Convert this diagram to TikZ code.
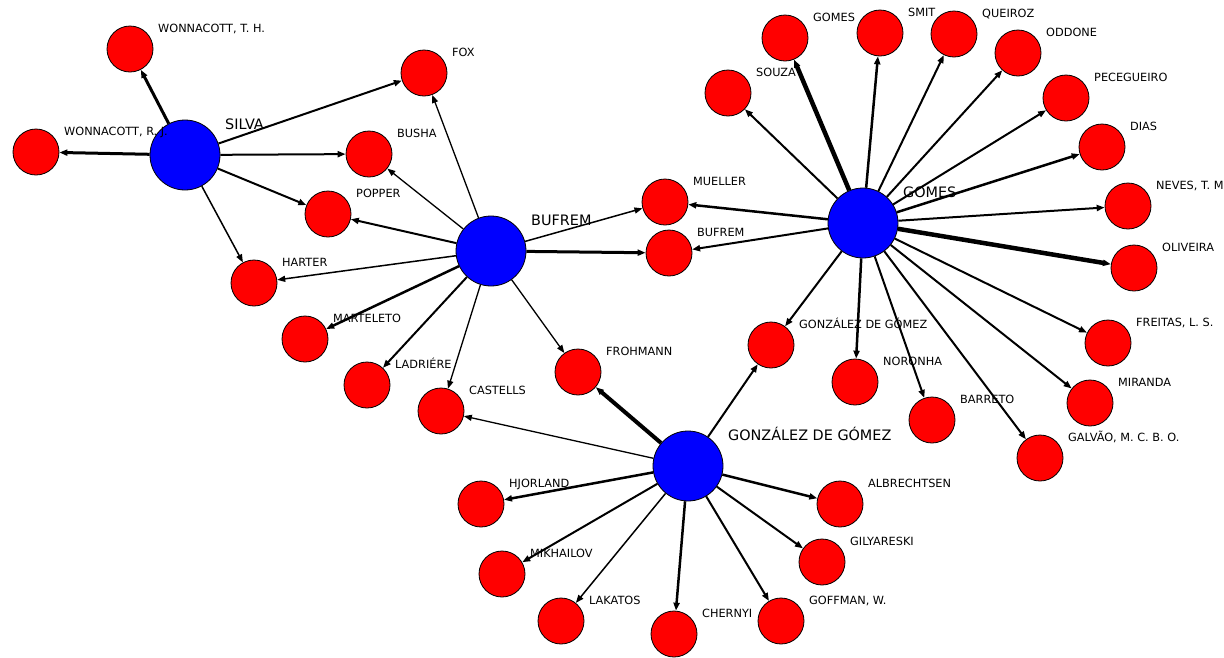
\documentclass[tikz,border=0pt]{standalone}
\usepackage{fontspec}
\setmainfont{DejaVu Sans}
\usetikzlibrary{arrows.meta,backgrounds}
\definecolor{nred}{RGB}{255,0,0}
\definecolor{nblue}{RGB}{0,0,255}
\tikzset{
  rn/.style={circle,draw=black,line width=0.8pt,fill=nred,minimum size=46pt,inner sep=0pt},
  bn/.style={circle,draw=black,line width=0.8pt,fill=nblue,minimum size=70pt,inner sep=0pt},
  lab/.style={anchor=base west,inner sep=0pt,text=black,font=\fontsize{11.3}{13}\selectfont},
  blab/.style={anchor=base west,inner sep=0pt,text=black,font=\fontsize{14.4}{17}\selectfont},
  e/.style={draw=black,line width=#1,-{Triangle[length=8pt,width=6pt]}},
  e/.default=2pt
}
\newcommand{\rnode}[4]{\node[rn] (#1) at (#2,#3) {}; \node[lab] (#1-l) at ({#2+28},{#3-16.5}) {#4};}
\newcommand{\bnode}[4]{\node[bn] (#1) at (#2,#3) {}; \node[blab] (#1-l) at ({#2+40},{#3-25.5}) {#4};}
\begin{document}
\begin{tikzpicture}[x=1pt,y=-1pt]
\useasboundingbox (0,0) rectangle (1224,657);
% blue hubs
\bnode{SILVA}{185}{155}{SILVA}
\bnode{BUFB}{491}{251}{BUFREM}
\bnode{GOMB}{863}{223}{GOMES}
\bnode{GGB}{688}{466}{GONZÁLEZ DE GÓMEZ}
% red nodes
\rnode{WTH}{130}{49}{WONNACOTT, T. H.}
\rnode{WRJ}{36}{152}{WONNACOTT, R. J.}
\rnode{FOX}{424}{73}{FOX}
\rnode{BUSHA}{369}{154}{BUSHA}
\rnode{POPPER}{328}{214}{POPPER}
\rnode{HARTER}{254}{283}{HARTER}
\rnode{MART}{305}{339}{MARTELETO}
\rnode{LADR}{367}{385}{LADRIÉRE}
\rnode{CAST}{441}{411}{CASTELLS}
\rnode{FROH}{578}{372}{FROHMANN}
\rnode{MUEL}{665}{202}{MUELLER}
\rnode{BUFR}{669}{253}{BUFREM}
\rnode{SOUZA}{728}{93}{SOUZA}
\rnode{GOMR}{785}{38}{GOMES}
\rnode{SMIT}{880}{33}{SMIT}
\rnode{QUEI}{954}{34}{QUEIROZ}
\rnode{ODDO}{1018}{53}{ODDONE}
\rnode{PECE}{1066}{98}{PECEGUEIRO}
\rnode{DIAS}{1102}{147}{DIAS}
\rnode{NEVES}{1128}{206}{NEVES, T. M.}
\rnode{OLIV}{1134}{268}{OLIVEIRA}
\rnode{FREI}{1108}{343}{FREITAS, L. S.}
\rnode{MIRA}{1090}{403}{MIRANDA}
\rnode{GALV}{1040}{458}{GALVÃO, M. C. B. O.}
\rnode{BARR}{932}{420}{BARRETO}
\rnode{NORO}{855}{382}{NORONHA}
\rnode{GGR}{771}{345}{GONZÁLEZ DE GÓMEZ}
\rnode{HJOR}{481}{504}{HJORLAND}
\rnode{ALBR}{840}{504}{ALBRECHTSEN}
\rnode{MIKH}{502}{574}{MIKHAILOV}
\rnode{GILY}{822}{562}{GILYARESKI}
\rnode{LAKA}{561}{621}{LAKATOS}
\rnode{CHER}{674}{634}{CHERNYI}
\rnode{GOFF}{781}{621}{GOFFMAN, W.}
\begin{scope}[on background layer]
% SILVA
\draw[e=3pt] (SILVA) -- (WTH);
\draw[e=3pt] (SILVA) -- (WRJ);
\draw[e=2pt] (SILVA) -- (FOX);
\draw[e=2pt] (SILVA) -- (BUSHA);
\draw[e=2pt] (SILVA) -- (POPPER);
\draw[e=1.5pt] (SILVA) -- (HARTER);
% BUFREM
\draw[e=1.3pt] (BUFB) -- (FOX);
\draw[e=1.3pt] (BUFB) -- (BUSHA);
\draw[e=2pt] (BUFB) -- (POPPER);
\draw[e=1.5pt] (BUFB) -- (HARTER);
\draw[e=2.5pt] (BUFB) -- (MART);
\draw[e=2pt] (BUFB) -- (LADR);
\draw[e=1.3pt] (BUFB) -- (CAST);
\draw[e=1.3pt] (BUFB) -- (FROH);
\draw[e=1.5pt] (BUFB) -- (MUEL);
\draw[e=3pt] (BUFB) -- (BUFR);
% GOMES
\draw[e=2.5pt] (GOMB) -- (MUEL);
\draw[e=2pt] (GOMB) -- (BUFR);
\draw[e=2pt] (GOMB) -- (SOUZA);
\draw[e=4.5pt] (GOMB) -- (GOMR);
\draw[e=2.5pt] (GOMB) -- (SMIT);
\draw[e=2pt] (GOMB) -- (QUEI);
\draw[e=2pt] (GOMB) -- (ODDO);
\draw[e=2pt] (GOMB) -- (PECE);
\draw[e=2.5pt] (GOMB) -- (DIAS);
\draw[e=2pt] (GOMB) -- (NEVES);
\draw[e=4.5pt] (GOMB) -- (OLIV);
\draw[e=2pt] (GOMB) -- (FREI);
\draw[e=2pt] (GOMB) -- (MIRA);
\draw[e=2pt] (GOMB) -- (GALV);
\draw[e=2pt] (GOMB) -- (BARR);
\draw[e=2.5pt] (GOMB) -- (NORO);
\draw[e=2pt] (GOMB) -- (GGR);
% GONZALEZ DE GOMEZ
\draw[e=2pt] (GGB) -- (GGR);
\draw[e=4pt] (GGB) -- (FROH);
\draw[e=1.3pt] (GGB) -- (CAST);
\draw[e=2.5pt] (GGB) -- (HJOR);
\draw[e=2.5pt] (GGB) -- (ALBR);
\draw[e=2pt] (GGB) -- (GILY);
\draw[e=2pt] (GGB) -- (GOFF);
\draw[e=2.5pt] (GGB) -- (CHER);
\draw[e=1.5pt] (GGB) -- (LAKA);
\draw[e=2pt] (GGB) -- (MIKH);
\end{scope}
\end{tikzpicture}
\end{document}
